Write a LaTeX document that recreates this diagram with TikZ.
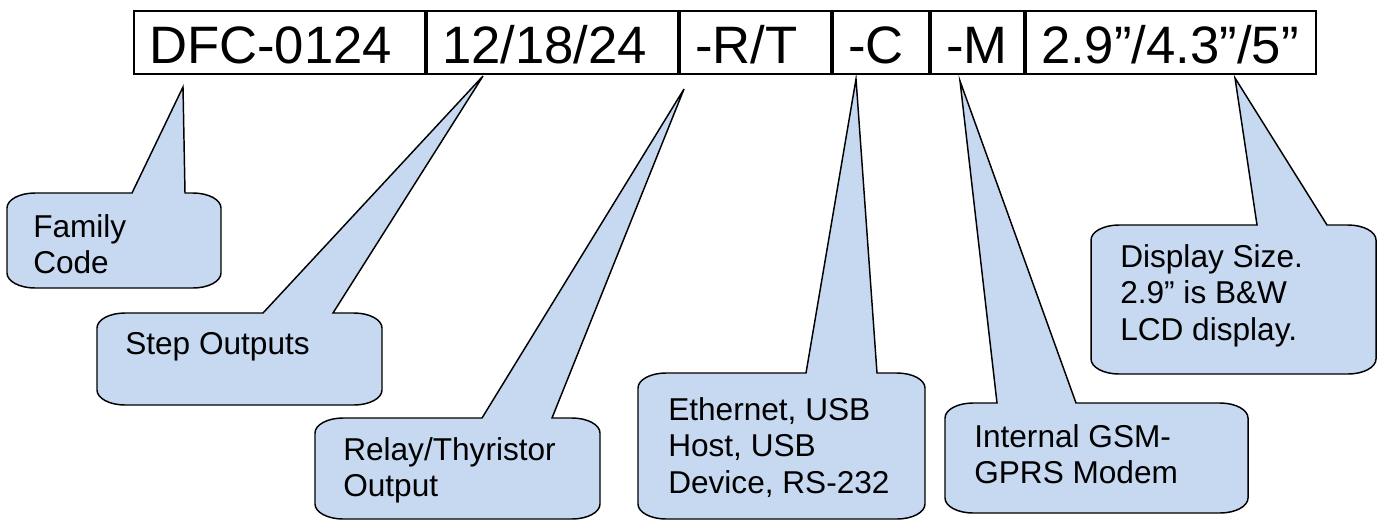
\documentclass[tikz,border=0pt]{standalone}
\usepackage{fontspec}
\setmainfont{Liberation Sans}
\usetikzlibrary{positioning}
\definecolor{bubblefill}{HTML}{C6D9F1}
\tikzset{
  cell/.style={draw, line width=1.5pt, inner xsep=11.25pt, inner ysep=0pt, text height=39pt, text depth=8.25pt, align=left, font=\fontsize{39.5}{47}\selectfont},
  bubble/.style={draw, line width=1.1pt, fill=bubblefill, line join=miter},
  tag/.style={inner sep=0pt, anchor=north west, align=left, font=\fontsize{23.7}{27.5}\selectfont},
}
% rounded box with a wedge on its top edge
% #1 left, #2 top, #3 right, #4 bottom, #5/#6 wedge base, #7/#8 tip
\newcommand{\drawcallout}[8]{%
  \draw[bubble] (#1,#2+15) arc[start angle=180, end angle=270, x radius=28, y radius=15]
    -- (#5,#2) -- (#7,#8) -- (#6,#2) -- (#3-28,#2)
    arc[start angle=270, end angle=360, x radius=28, y radius=15]
    -- (#3,#4-15) arc[start angle=0, end angle=90, x radius=28, y radius=15]
    -- (#1+28,#4) arc[start angle=90, end angle=180, x radius=28, y radius=15] -- cycle;}

\begin{document}
\begin{tikzpicture}[x=0.75pt, y=-0.75pt]
\useasboundingbox (0,0) rectangle (1383,522);

% part number
\node[cell, anchor=north west, text width=195.75pt] (fam) at (133,10) {DFC-0124};
\node[cell, right=0pt of fam, text width=165.75pt] (steps) {12/18/24};
\node[cell, right=0pt of steps, text width=90.75pt] (relay) {-R/T};
\node[cell, right=0pt of relay, text width=49.5pt] (comm) {-C};
\node[cell, right=0pt of comm, text width=47.25pt] (modem) {-M};
\node[cell, right=0pt of modem, text width=195pt] (disp) {2.9”/4.3”/5”};

% callouts
\drawcallout{7}{193}{221}{288}{132}{185}{183}{87}
\drawcallout{97}{313}{382}{405}{263}{333}{483}{76}
\drawcallout{315}{418}{600}{519}{482}{552}{684}{89}
\drawcallout{638}{373}{925}{519}{806}{877}{856}{79}
\drawcallout{945}{403}{1248}{513}{997}{1076}{960}{81}
\drawcallout{1091}{225}{1376}{374}{1257}{1327}{1235}{78}

\node[tag] (famtxt) at (33,214) {Family\\Code};
\node[tag] (stepstxt) at (125,332) {Step Outputs};
\node[tag] (relaytxt) at (343,437) {Relay/Thyristor\\Output};
\node[tag] (commtxt) at (668,397) {Ethernet, USB\\Host, USB\\Device, RS-232};
\node[tag] (modemtxt) at (974,424) {Internal GSM-\\GPRS Modem};
\node[tag] (disptxt) at (1120,244) {Display Size.\\2.9” is B\&W\\LCD display.};

\end{tikzpicture}
\end{document}
